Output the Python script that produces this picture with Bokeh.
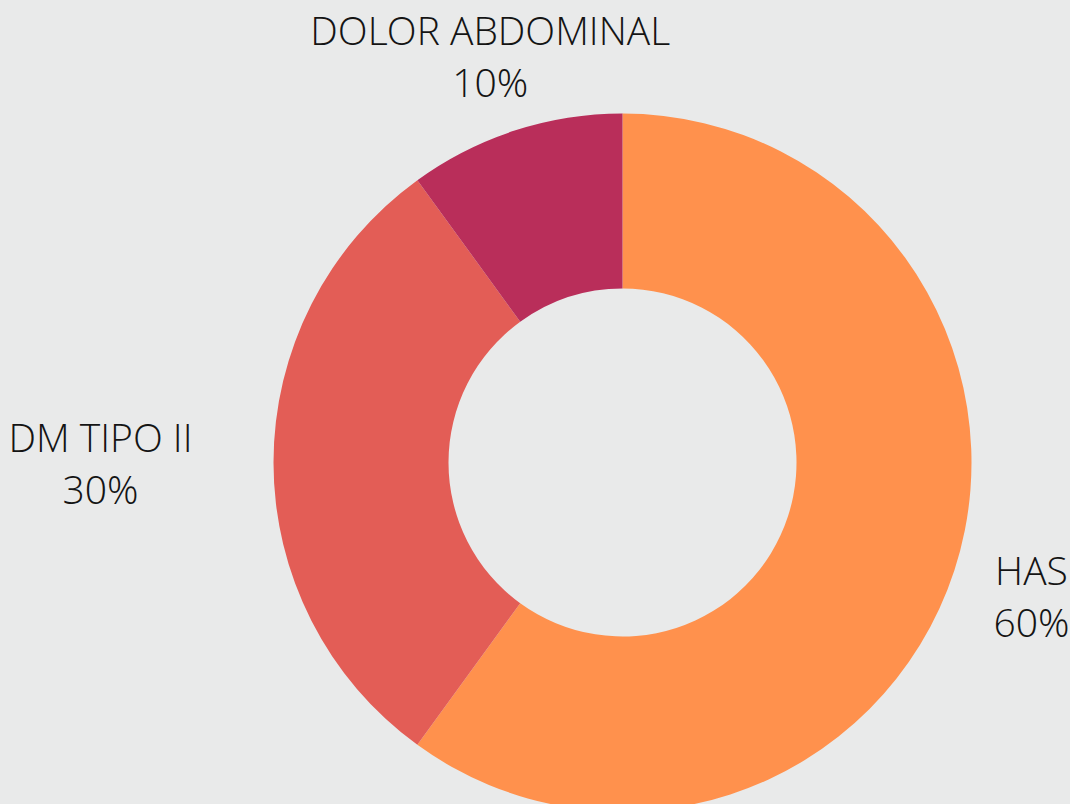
import math
from bokeh.plotting import figure
from bokeh.models import ColumnDataSource
from bokeh.core.properties import value
from bokeh.embed import file_html
from bokeh.resources import INLINE

# ---- data ----
categories = ["HAS", "DM TIPO II", "DOLOR ABDOMINAL"]
percents = [60, 30, 10]
colors = ["#FF914D", "#E35D56", "#B92E5A"]

# ---- layout ----
W, H = 1070, 804
BG = "#E9EAEA"
CX, CY = 622, 342          # donut centre (data units = pixels)
R_OUT, R_IN = 349, 174
LABEL_R = [430, 522, 428]  # distance of each label block from the centre
FONT = value("Open Sans Light")
FONT_SIZE = "39px"

total = float(sum(percents))
starts, ends, mids = [], [], []
cum = 0.0
for v in percents:
    a0 = math.pi / 2 - 2 * math.pi * (cum + v) / total
    a1 = math.pi / 2 - 2 * math.pi * cum / total
    starts.append(a0)
    ends.append(a1)
    mids.append((a0 + a1) / 2)
    cum += v

src = ColumnDataSource(dict(start=starts, end=ends, color=colors,
                            x=[CX] * len(percents), y=[CY] * len(percents)))

p = figure(width=W, height=H, x_range=(0, W), y_range=(0, H),
           output_backend="svg", toolbar_location=None,
           min_border=0, background_fill_color=BG, border_fill_color=BG)
p.axis.visible = False
p.grid.visible = False
p.outline_line_color = None

p.annular_wedge(x="x", y="y", inner_radius=R_IN, outer_radius=R_OUT,
                start_angle="start", end_angle="end", direction="anticlock",
                fill_color="color", line_color=None, source=src)

lx = [CX + r * math.cos(m) for r, m in zip(LABEL_R, mids)]
ly = [CY + r * math.sin(m) for r, m in zip(LABEL_R, mids)]
line1 = ColumnDataSource(dict(x=lx, y=[v + 26 for v in ly], t=categories))
line2 = ColumnDataSource(dict(x=lx, y=[v - 26 for v in ly],
                              t=["%d%%" % v for v in percents]))
for s in (line1, line2):
    p.text(x="x", y="y", text="t", source=s, text_align="center",
           text_baseline="middle", text_font=FONT,
           text_font_size=FONT_SIZE, text_color="#141414")

html = file_html(p, INLINE)
html = html.replace("<head>",
                    "<head><style>html,body{margin:0;padding:0;background:%s;}</style>" % BG, 1)
open("out.html", "w").write(html)
